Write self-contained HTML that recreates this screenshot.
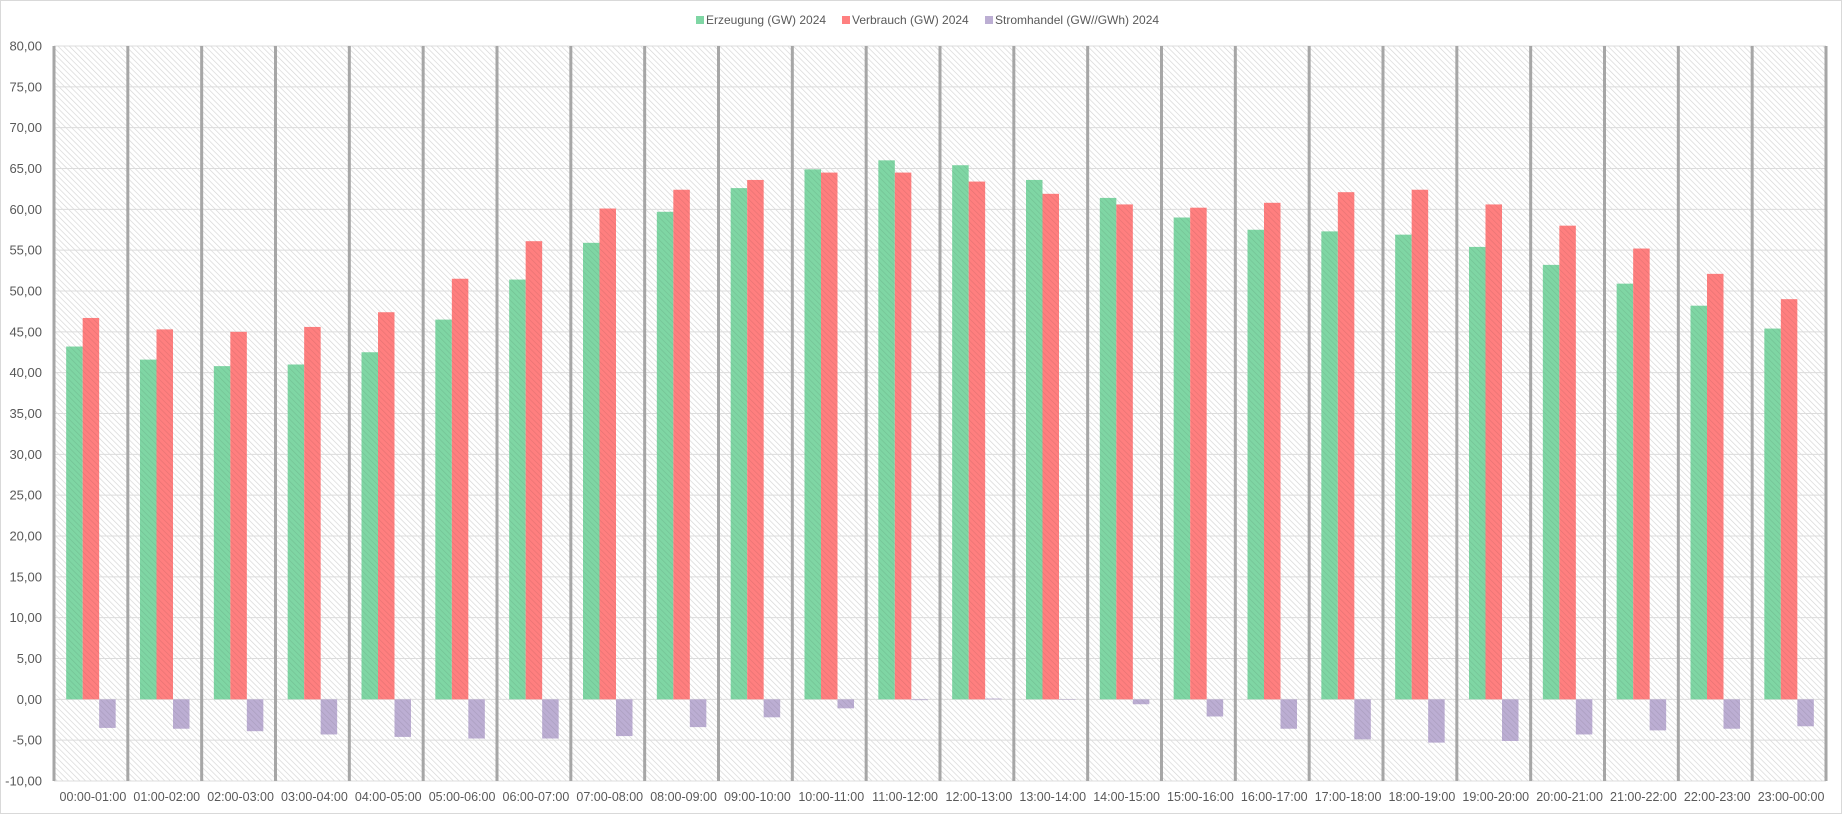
<!DOCTYPE html>
<html><head><meta charset="utf-8"><style>
html,body{margin:0;padding:0;background:#fff;}
svg{display:block;font-family:"Liberation Sans",sans-serif;}
</style></head><body>
<svg id="chart" width="1842" height="814" xmlns="http://www.w3.org/2000/svg">
<defs>
<pattern id="hatch" width="4" height="4" patternUnits="userSpaceOnUse" patternTransform="rotate(-45)">
<rect width="4" height="4" fill="#fff"/><line x1="0" y1="0" x2="0" y2="4" stroke="#d4d4d4" stroke-width="1.3"/>
</pattern>
<pattern id="hatch2" width="4" height="4" patternUnits="userSpaceOnUse" patternTransform="rotate(-45)">
<line x1="0" y1="0" x2="0" y2="4" stroke="rgba(0,0,0,0.1)" stroke-width="1.3"/>
</pattern>
</defs>
<rect x="0.5" y="0.5" width="1841" height="813" fill="#fff" stroke="#d9d9d9"/>
<g id="legend">
<rect x="696" y="16" width="8" height="8" fill="#7fd6a4"/>
<text x="706" y="24" font-size="12" fill="#595959">Erzeugung (GW) 2024</text>
<rect x="842" y="16" width="8" height="8" fill="#ff8080"/>
<text x="852" y="24" font-size="12" fill="#595959">Verbrauch (GW) 2024</text>
<rect x="985" y="16" width="8" height="8" fill="#bcaed3"/>
<text x="995" y="24" font-size="12" fill="#595959">Stromhandel (GW//GWh) 2024</text>
</g>
<g id="plot"></g>
</svg>
<script>
const categories=["00:00-01:00","01:00-02:00","02:00-03:00","03:00-04:00","04:00-05:00","05:00-06:00","06:00-07:00","07:00-08:00","08:00-09:00","09:00-10:00","10:00-11:00","11:00-12:00","12:00-13:00","13:00-14:00","14:00-15:00","15:00-16:00","16:00-17:00","17:00-18:00","18:00-19:00","19:00-20:00","20:00-21:00","21:00-22:00","22:00-23:00","23:00-00:00"];
const erzeugung=[43.2,41.6,40.8,41.0,42.5,46.5,51.4,55.9,59.7,62.6,64.9,66.0,65.4,63.6,61.4,59.0,57.5,57.3,56.9,55.4,53.2,50.9,48.2,45.4];
const verbrauch=[46.7,45.3,45.0,45.6,47.4,51.5,56.1,60.1,62.4,63.6,64.5,64.5,63.4,61.9,60.6,60.2,60.8,62.1,62.4,60.6,58.0,55.2,52.1,49.0];
const stromhandel=[-3.5,-3.6,-3.9,-4.3,-4.6,-4.8,-4.8,-4.5,-3.4,-2.2,-1.1,-0.1,0.1,0.0,-0.6,-2.1,-3.6,-4.9,-5.3,-5.1,-4.3,-3.8,-3.6,-3.3];
const yTicks=[80,75,70,65,60,55,50,45,40,35,30,25,20,15,10,5,0,-5,-10];

const NS="http://www.w3.org/2000/svg";
const g=document.getElementById('plot');
const L=54,R=1826,T=46,B=781,yMin=-10,yMax=80;
const y=v=>T+(yMax-v)/(yMax-yMin)*(B-T);
const cw=(R-L)/categories.length;
const x=i=>L+i*cw;
function mk(t,a){const e=document.createElementNS(NS,t);for(const k in a)e.setAttribute(k,a[k]);g.appendChild(e);return e;}
let bg=mk('rect',{x:L,y:T,width:R-L,height:B-T,fill:'url(#hatch)'});


yTicks.forEach(v=>{
  const ln=mk('line',{x1:L,x2:R,y1:y(v),y2:y(v),stroke:'#dcdcdc','stroke-width':1});
  
  
  const t=mk('text',{x:42,y:y(v)+4.5,'text-anchor':'end','font-size':13,fill:'#595959'});
  t.textContent=v.toFixed(2).replace('.',',');
  
  
});
const bw=16.5;
const series=[[erzeugung,'#7fd6a4','erzeugung'],[verbrauch,'#ff7f7f','verbrauch'],[stromhandel,'#bcaed3','stromhandel']];
categories.forEach((c,i)=>{
  const gx=x(i)+(cw-3*bw)/2;
  series.forEach((s,k)=>{
    const v=s[0][i];
    const y1=Math.min(y(v),y(0)),h=Math.abs(y(v)-y(0));
    const r=mk('rect',{x:gx+k*bw,y:y1,width:bw,height:Math.max(h,0.5),fill:s[1]});
    
    
    const o=mk('rect',{x:gx+k*bw,y:y1,width:bw,height:Math.max(h,0.5),fill:'url(#hatch2)'});
    
    
  });
  const t=mk('text',{x:x(i)+cw/2+2,y:801,'text-anchor':'middle','font-size':12.5,fill:'#595959'});
  t.textContent=c;
  
  
});
for(let i=0;i<=categories.length;i++){
  const s=mk('line',{x1:x(i),x2:x(i),y1:T,y2:B,stroke:'#a6a6a6','stroke-width':3});
  
  
}
</script>
</body></html>
